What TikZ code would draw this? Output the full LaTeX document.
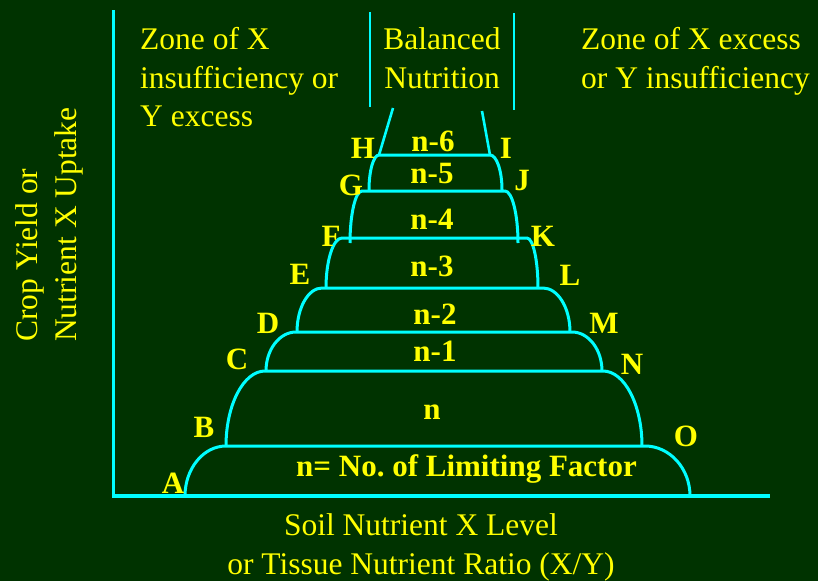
\documentclass[tikz,border=0pt]{standalone}
\usepackage{fontspec}
\setmainfont{Liberation Serif}
\frenchspacing
\definecolor{bg}{RGB}{0,51,0}
\definecolor{ylw}{RGB}{255,255,0}
\definecolor{cyn}{RGB}{0,255,255}
\newcommand\mytier[6]{%
  \draw[tierline] ({#1},{#5}) .. controls ({#1},{#5-0.55*(#5-#6)}) and ({#2-0.55*(#2-#1)},{#6}) .. ({#2},{#6})
    -- ({#3},{#6}) .. controls ({#3+0.55*(#4-#3)},{#6}) and ({#4},{#5-0.55*(#5-#6)}) .. ({#4},{#5});}
\begin{document}
\begin{tikzpicture}[x=1pt,y=-1pt,
  zone/.style={text=ylw, font=\fontsize{31.5}{38.5}\selectfont, inner sep=0pt, align=left},
  lbl/.style={text=ylw, font=\bfseries\fontsize{31}{36}\selectfont, inner sep=0pt, anchor=base},
  tierline/.style={draw=cyn, line width=3pt},
  axis/.style={draw=cyn, line width=3.2pt},
  sepline/.style={draw=cyn, line width=1.8pt},
  slant/.style={draw=cyn, line width=2.6pt}]
\fill[bg] (0,0) rectangle (818,581);
\useasboundingbox (0,0) rectangle (818,581);

% axes
\coordinate (ytop) at (113.5,10);
\coordinate (orig) at (113.5,496);
\coordinate (xend) at (770,496);
\draw[axis] (ytop) -- (orig) -- (xend);

% zone separators
\coordinate (s1a) at (370,12);
\coordinate (s1b) at (370,107);
\coordinate (s2a) at (514,13);
\coordinate (s2b) at (514,110);
\draw[sepline] (s1a) -- (s1b);
\draw[sepline] (s2a) -- (s2b);

% zone texts
\node[zone, anchor=north west] (z1) at (140,27.5) {Zone of X\\insufficiency or\\Y excess};
\node[zone, anchor=north, align=center] (z2) at (442,27.5) {Balanced\\Nutrition};
\node[zone, anchor=north west] (z3) at (581,27.5) {Zone of X excess\\or Y insufficiency};

% axis labels
\node[zone, rotate=90, anchor=north west] (ylab) at (15.5,342) {Crop Yield or\\Nutrient X Uptake};
\node[zone, anchor=north, align=center] (xlab) at (421,513.5) {Soil Nutrient X Level\\or Tissue Nutrient Ratio (X/Y)};

% tiers
\mytier{185}{226}{645}{690}{496}{446}
\mytier{226}{265}{603}{642}{446}{371}
\mytier{266}{296}{572}{602}{371}{332}
\mytier{297}{322}{543}{570}{332}{288}
\mytier{326}{342}{527}{538}{288}{238}
\mytier{350}{362}{505}{518}{243}{191}
\mytier{369}{379}{490}{502}{190}{155}
\coordinate (hl) at (379,155);
\coordinate (hr) at (490,155);
\coordinate (tl) at (393,108);
\coordinate (tr) at (482,111);
\draw[slant] (hl) -- (tl);
\draw[slant] (hr) -- (tr);

% corner letters
\node[lbl] (A) at (173,493) {A};
\node[lbl] (B) at (204,437) {B};
\node[lbl] (C) at (237,369) {C};
\node[lbl] (D) at (268,333) {D};
\node[lbl] (E) at (300,284) {E};
\node[lbl] (F) at (331,246) {F};
\node[lbl] (G) at (351,195) {G};
\node[lbl] (H) at (363,158) {H};
\node[lbl] (I) at (506,158) {I};
\node[lbl] (J) at (522,190) {J};
\node[lbl] (K) at (543,246) {K};
\node[lbl] (L) at (570,285) {L};
\node[lbl] (M) at (604,333) {M};
\node[lbl] (N) at (632,374) {N};
\node[lbl] (O) at (686,446) {O};

% tier labels
\node[lbl] (n6) at (433,151) {n-6};
\node[lbl] (n5) at (432,183) {n-5};
\node[lbl] (n4) at (432,229) {n-4};
\node[lbl] (n3) at (432,276) {n-3};
\node[lbl] (n2) at (435,324) {n-2};
\node[lbl] (n1) at (435,361) {n-1};
\node[lbl] (n0) at (432,419) {n};
\node[lbl] (nf) at (466.5,476) {n= No. of Limiting Factor};
\end{tikzpicture}
\end{document}
